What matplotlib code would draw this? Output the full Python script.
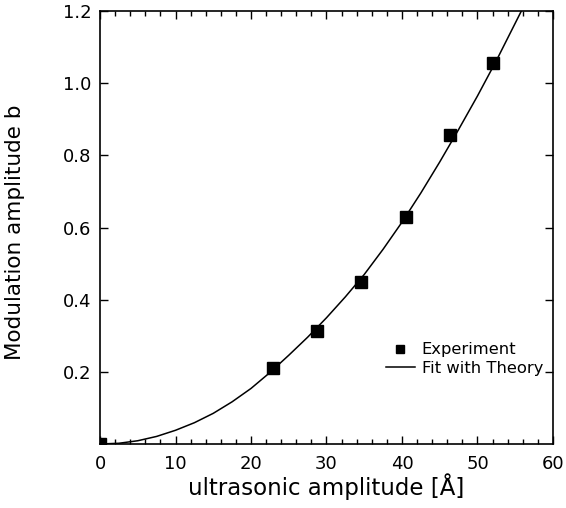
import numpy as np
import matplotlib
matplotlib.use('Agg')
import matplotlib.pyplot as plt
from matplotlib.ticker import MultipleLocator

# measured points (ultrasonic amplitude in A, modulation amplitude b)
amp_exp = [0.0, 22.9, 28.8, 34.6, 40.5, 46.4, 52.1]
b_exp = [0.0, 0.211, 0.313, 0.450, 0.630, 0.858, 1.056]

# theory curve
amp_fit = [0, 2.5, 5, 7.5, 10, 12.5, 15, 17.5, 20, 22.5, 25, 27.5, 30, 32.5,
           35, 37.5, 40, 42.5, 45, 47.5, 50, 52.5, 55.8]
b_fit = [0.0, 0.002, 0.009, 0.021, 0.038, 0.059, 0.085, 0.117, 0.154, 0.198,
         0.246, 0.296, 0.350, 0.408, 0.470, 0.540, 0.615, 0.696, 0.782, 0.872,
         0.965, 1.063, 1.200]

fig = plt.figure(figsize=(5.66, 5.08), dpi=100)
ax = fig.add_axes([0.1767, 0.126, 0.8003, 0.852])

ax.plot(amp_fit, b_fit, color='black', lw=1.1, label='Fit with Theory')
ax.plot(amp_exp, b_exp, 's', color='black', ms=8.5, ls='none', label='Experiment')

ax.set_xlim(0, 60)
ax.set_ylim(0, 1.2)
ax.xaxis.set_major_locator(MultipleLocator(10))
ax.xaxis.set_minor_locator(MultipleLocator(2))
ax.set_yticks([0.2, 0.4, 0.6, 0.8, 1.0, 1.2])
ax.set_yticklabels(['0.2', '0.4', '0.6', '0.8', '1.0', '1.2'])
ax.tick_params(which='both', direction='in', top=True, right=True, labelsize=13)
ax.tick_params(axis='x', pad=8)
ax.tick_params(axis='y', pad=6)
ax.tick_params(which='major', length=6, width=1)
ax.tick_params(which='minor', length=3.5, width=1)
for s in ax.spines.values():
    s.set_linewidth(1.2)

ax.set_xlabel('ultrasonic amplitude [Å]', fontsize=16.5, labelpad=0)
ax.set_ylabel('Modulation amplitude b', fontsize=15.5)
ax.yaxis.set_label_coords(-0.166, 0.49)

h, l = ax.get_legend_handles_labels()
leg = ax.legend([h[1], h[0]], [l[1], l[0]], loc='lower right',
                bbox_to_anchor=(1.0, 0.135), frameon=False, fontsize=11.8,
                markerscale=0.6, handlelength=1.8, handletextpad=0.4,
                labelspacing=0.2, borderaxespad=0.2)

fig.savefig('out.png', dpi=100)
